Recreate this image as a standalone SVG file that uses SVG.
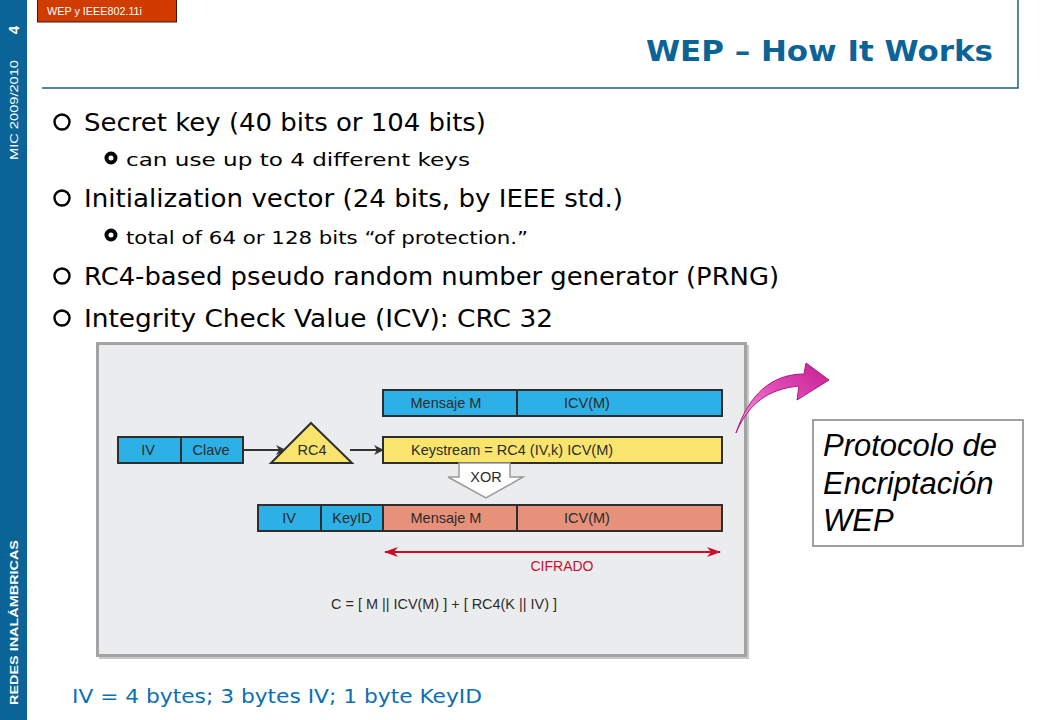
<svg xmlns="http://www.w3.org/2000/svg" width="1040" height="720" viewBox="0 0 1040 720">
<style>
.side{font-family:"Liberation Sans",Arial,sans-serif;fill:#fff}
.b1{font-family:"DejaVu Sans",Verdana,sans-serif;font-size:24px;fill:#000}
.b2{font-family:"DejaVu Sans",Verdana,sans-serif;font-size:18.5px;fill:#000}
.lbl{font-family:"Liberation Sans",Arial,sans-serif;font-size:14.5px;fill:#2b2b2b;text-anchor:middle}
.cell{stroke:#2e2e2e;stroke-width:2}
.blue{fill:#2db0e6}
.yel{fill:#f9e56e}
.sal{fill:#e8917a}
.conn{stroke:#333;stroke-width:2;fill:none}
</style>
<defs>
<marker id="ah" markerWidth="10" markerHeight="10" refX="9" refY="5" orient="auto" markerUnits="userSpaceOnUse">
<path d="M0,0 L10,5 L0,10 L3,5 Z" fill="#333"/>
</marker>
<marker id="rh" markerWidth="14" markerHeight="10" refX="13" refY="5" orient="auto-start-reverse" markerUnits="userSpaceOnUse">
<path d="M0,0 L14,5 L0,10 L4,5 Z" fill="#c8102e"/>
</marker>
<linearGradient id="pink" x1="0" y1="1" x2="1" y2="0">
<stop offset="0" stop-color="#f6a8dc"/>
<stop offset="0.5" stop-color="#e04fb8"/>
<stop offset="1" stop-color="#c71c8f"/>
</linearGradient>
</defs>
<rect width="1040" height="720" fill="#fff"/>
<!-- sidebar -->
<rect x="0" y="0" width="27" height="720" fill="#0b6498"/>
<text class="side" font-size="15" font-weight="bold" transform="translate(19,30) rotate(-90)" text-anchor="middle">4</text>
<text class="side" font-size="11" transform="translate(18,160) rotate(-90)" textLength="100" lengthAdjust="spacingAndGlyphs">MIC 2009/2010</text>
<text class="side" font-size="11.5" font-weight="bold" transform="translate(18,705) rotate(-90)" textLength="165" lengthAdjust="spacingAndGlyphs">REDES INALÁMBRICAS</text>
<!-- tab -->
<rect x="37.5" y="-1" width="139" height="23" fill="#d03c00" stroke="#3a1a0a" stroke-width="1"/>
<text x="47" y="15" font-family="Liberation Sans,Arial,sans-serif" font-size="10.8" fill="#fff">WEP y IEEE802.11i</text>
<!-- title -->
<text x="993" y="61" text-anchor="end" font-family="DejaVu Sans,Verdana,sans-serif" font-weight="bold" font-size="28" fill="#0b6498" textLength="347" lengthAdjust="spacingAndGlyphs">WEP – How It Works</text>
<path d="M1018,0 V88 H42" fill="none" stroke="#1f5f86" stroke-width="1.5"/>
<!-- bullets -->
<g id="bullets">
<g fill="#fff" stroke="#000" stroke-width="2.4">
<circle cx="62" cy="122" r="7.5"/><circle cx="62" cy="198" r="7.5"/><circle cx="62" cy="276" r="7.5"/><circle cx="62" cy="318" r="7.5"/>
</g>
<g fill="none" stroke="#000" stroke-width="4">
<circle cx="111" cy="158" r="4.5"/><circle cx="111" cy="235" r="4.5"/>
</g>
<text class="b1" x="84" y="131" textLength="402" lengthAdjust="spacingAndGlyphs">Secret key (40 bits or 104 bits)</text>
<text class="b2" x="126" y="166" textLength="344" lengthAdjust="spacingAndGlyphs">can use up to 4 different keys</text>
<text class="b1" x="84" y="207" textLength="539" lengthAdjust="spacingAndGlyphs">Initialization vector (24 bits, by IEEE std.)</text>
<text class="b2" x="126" y="244" textLength="402" lengthAdjust="spacingAndGlyphs">total of 64 or 128 bits “of protection.”</text>
<text class="b1" x="84" y="285" textLength="695" lengthAdjust="spacingAndGlyphs">RC4-based pseudo random number generator (PRNG)</text>
<text class="b1" x="84" y="327" textLength="469" lengthAdjust="spacingAndGlyphs">Integrity Check Value (ICV): CRC 32</text>
</g>
<!-- diagram frame -->
<rect x="99" y="345" width="650" height="314" fill="#c8c8c8"/>
<rect x="97.5" y="343.5" width="648" height="312" fill="#ebeced" stroke="#a3a3a3" stroke-width="3"/>
<g id="connectors">
<line class="conn" x1="243" y1="450" x2="285" y2="450" marker-end="url(#ah)"/>
<line class="conn" x1="350" y1="450" x2="383" y2="450" marker-end="url(#ah)"/>
<line x1="385" y1="552" x2="720" y2="552" stroke="#c8102e" stroke-width="2" marker-start="url(#rh)" marker-end="url(#rh)"/>
</g>
<g id="msg">
<rect class="cell blue" x="383" y="390" width="339" height="26"/>
<line class="cell" x1="517" y1="390" x2="517" y2="416"/>
<text class="lbl" x="446" y="408">Mensaje M</text>
<text class="lbl" x="587" y="408">ICV(M)</text>
</g>
<g id="ivclave">
<rect class="cell blue" x="118" y="437" width="125" height="26"/>
<line class="cell" x1="181" y1="437" x2="181" y2="463"/>
<text class="lbl" x="148" y="455">IV</text>
<text class="lbl" x="211" y="455">Clave</text>
</g>
<g id="rc4">
<polygon class="cell yel" points="311,423 352,463 271,463"/>
<text class="lbl" x="312" y="455">RC4</text>
</g>
<g id="keystream">
<rect class="cell yel" x="383" y="437" width="339" height="26"/>
<text class="lbl" x="411" y="455" style="text-anchor:start">Keystream = RC4 (IV,k) ICV(M)</text>
</g>
<g id="xor">
<polygon points="459,463 510,463 510,477 523,477 486,498 448,477 459,477" fill="#fff" stroke="#9a9a9a" stroke-width="1.5"/>
<text class="lbl" x="486" y="482">XOR</text>
</g>
<g id="cipher">
<rect class="cell blue" x="258" y="505" width="125" height="26"/>
<rect class="cell sal" x="383" y="505" width="339" height="26"/>
<line class="cell" x1="321" y1="505" x2="321" y2="531"/>
<line class="cell" x1="517" y1="505" x2="517" y2="531"/>
<text class="lbl" x="289" y="523">IV</text>
<text class="lbl" x="352" y="523">KeyID</text>
<text class="lbl" x="446" y="523">Mensaje M</text>
<text class="lbl" x="587" y="523">ICV(M)</text>
</g>
<text x="562" y="571" text-anchor="middle" font-family="Liberation Sans,Arial,sans-serif" font-size="14" fill="#c8102e">CIFRADO</text>
<text x="331" y="609" font-family="Liberation Sans,Arial,sans-serif" font-size="14" fill="#2b2b2b" textLength="226" lengthAdjust="spacingAndGlyphs">C = [ M || ICV(M) ] + [ RC4(K || IV) ]</text>
<!-- pink arrow -->
<g id="pinkarrow">
<path d="M736,433 C748,404 768,389 799,386 L797,400 L829,380 L806,363 L804,374 C772,374 749,394 736,433 Z" fill="url(#pink)" stroke="#b01880" stroke-width="1"/>
</g>
<g id="protocolo">
<rect x="813" y="420" width="210" height="126" fill="#fff" stroke="#a0a0a0" stroke-width="2"/>
<g font-family="Liberation Sans,Arial,sans-serif" font-style="italic" font-size="31" fill="#000">
<text x="823" y="456">Protocolo de</text>
<text x="823" y="494">Encriptación</text>
<text x="823" y="531">WEP</text>
</g>
</g>
<text x="72" y="703" font-family="DejaVu Sans,Verdana,sans-serif" font-size="20" fill="#0b6fb5" textLength="410" lengthAdjust="spacingAndGlyphs">IV = 4 bytes; 3 bytes IV; 1 byte KeyID</text>
</svg>
